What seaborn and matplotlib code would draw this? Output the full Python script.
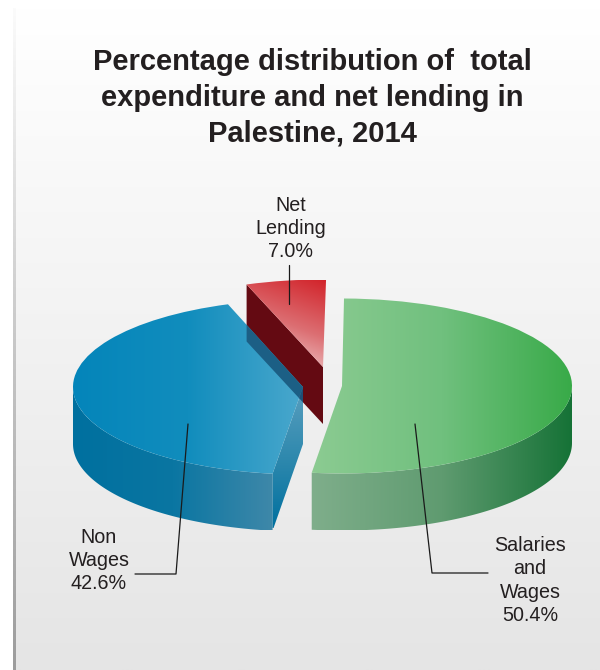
import numpy as np
import matplotlib
matplotlib.use("Agg")
import matplotlib.pyplot as plt
from matplotlib.patches import Polygon
import seaborn as sns

categories = ["Salaries\nand\nWages", "Non\nWages", "Net\nLending"]
shares = [50.4, 42.6, 7.0]
title = "Percentage distribution of  total\nexpenditure and net lending in\nPalestine, 2014"

sns.set_theme(style="white")
plt.rcParams["font.family"] = ["Liberation Sans", "DejaVu Sans"]

W, H, RX, RY, DEPTH = 600, 670, 230.0, 87.5, 57.0
# style: per-slice pie placement (pixel centre, clock start angle, perspective stretch of the sweep)
centers_px = [(342, 386), (303, 387), (323, 367)]
starts = [0.5, 187.6, 340.6]
stretch = [1.031, 1.0, 0.8]

fig = plt.figure(figsize=(W / 100, H / 100), dpi=100, facecolor="white")
ax = fig.add_axes([0, 0, 1, 1])


def X(px):
    return px / RX


def Y(py):
    return -py / RY


D = DEPTH / RY
limits = (X(0), X(W), Y(H), Y(0))


def pt(c, cx, cy, r=1.0, down=0.0):
    a = np.radians(c)
    return np.column_stack([cx + r * np.sin(a), cy + r * np.cos(a) - down])


def gradient(colors, extent, clip, z, direction="h", alpha=1.0):
    cmap = sns.blend_palette(colors, as_cmap=True)
    t = np.linspace(0, 1, 256)
    if direction == "h":
        g = t[None, :]
    elif direction == "v":
        g = t[:, None]
    else:
        gx, gy = np.meshgrid(t, t)
        g = direction[0] * gx + direction[1] * gy
        g = (g - g.min()) / (g.max() - g.min())
    im = ax.imshow(g, cmap=cmap, extent=extent, origin="upper", aspect="auto",
                   zorder=z, interpolation="bilinear", alpha=alpha)
    if clip is not None:
        im.set_clip_path(clip)
    return im


def poly(pts):
    p = Polygon(pts, closed=True, facecolor="none", edgecolor="none", transform=ax.transData)
    ax.add_patch(p)
    return p


def wedge(share, start, stretch_k, c):
    w, _ = ax.pie([share / 100 * stretch_k], startangle=90 - start, counterclock=False,
                  center=c, radius=1, normalize=False, frame=True,
                  wedgeprops=dict(facecolor="none", edgecolor="none", linewidth=0))
    return w[0]


def wall(c0, c1, cx, cy):
    arc = pt(np.linspace(c0, c1, 120), cx, cy)
    return np.vstack([arc, arc[::-1] - [0, D]])


def px_ext(x0, x1, y0, y1):
    return (X(x0), X(x1), Y(y1), Y(y0))


# background
gradient(["#ffffff", "#e5e5e5"], px_ext(15, 600, 8, 670), None, 0, "v")
gradient(["#fbfbfb", "#c8c8c8", "#9c9c9c"], px_ext(13.5, 16, 8, 670), None, 1, "v")

sweeps = [s * 3.6 * k for s, k in zip(shares, stretch)]
cs = [(X(x), Y(y)) for x, y in centers_px]

# red slice (drawn first, furthest back)
cx, cy = cs[2]
red_l = pt(starts[2], cx, cy)[0]
apex = np.array([cx, cy])
red_side_pts = np.array([red_l, apex, apex - [0, D], red_l - [0, D]])
ax.add_patch(Polygon(red_side_pts, closed=True, facecolor="#640a12", edgecolor="none", zorder=3))
red_top = wedge(shares[2], starts[2], stretch[2], cs[2])
gradient(["#d2232a", "#dc6f73", "#f4e0e0"], px_ext(246, 327, 280, 367), red_top, 4, (-0.35, 1.0))

# green slice
cx, cy = cs[0]
g_end = starts[0] + sweeps[0]
g_wall = poly(wall(90, g_end, cx, cy))
gradient(["#7fae8b", "#5f9b70", "#157236"], px_ext(311, 573, 380, 530), g_wall, 5)
g_top = wedge(shares[0], starts[0], stretch[0], cs[0])
gradient(["#8ccb92", "#70c07e", "#38aa48"], px_ext(311, 573, 298, 474), g_top, 6)

# blue slice
cx, cy = cs[1]
b_end = starts[1] + sweeps[1]
corner = pt(starts[1], cx, cy)[0]
apex_b = np.array([cx, cy])
b_wall = poly(wall(starts[1], 270, cx, cy))
gradient(["#00709f", "#0a76a2", "#3f88a9"], px_ext(73, 274, 380, 530), b_wall, 7)
cut_pts = np.array([apex_b, corner, corner - [0, D], apex_b - [0, D]])
b_cut = poly(cut_pts)
gradient(["#5a9fbf", "#2f89ae", "#00709f"], px_ext(272, 304, 387, 528), b_cut, 8, "v")
b_top = wedge(shares[1], starts[1], stretch[1], cs[1])
gradient(["#0485ba", "#118dbd", "#4ba8cd"], px_ext(73, 304, 300, 474), b_top, 9)

# shadow of the red slice's side seen through the blue slice
for clip, col, z in [(b_top, "#1c5f85", 10), (b_cut, "#1e4f77", 10)]:
    s = Polygon(red_side_pts, closed=True, facecolor=col, edgecolor="none", zorder=z)
    ax.add_patch(s)
    s.set_clip_path(clip)

# leader lines
leaders = [
    ([415, 432, 488], [424, 573, 573]),
    ([188, 176, 135], [424, 574, 574]),
    ([289, 289], [265, 304]),
]
for lx, ly in leaders:
    ax.plot([X(v) for v in lx], [Y(v) for v in ly], color="#1a1a1a", lw=0.9, zorder=12)

# labels
label_pos = [(530, 580.5), (99, 560.5), (291, 228.5)]
for name, share, (lx, ly) in zip(categories, shares, label_pos):
    ax.text(X(lx), Y(ly), f"{name}\n{share:.1f}%", ha="center", va="center", fontsize=14.2,
            color="#231f20", linespacing=1.27, zorder=13)

ax.text(X(312), Y(97.5), title, ha="center", va="center", fontsize=21, fontweight="bold",
        color="#231f20", linespacing=1.35, zorder=13)

ax.set_aspect("auto")
ax.set_xlim(limits[0], limits[1])
ax.set_ylim(limits[2], limits[3])
ax.axis("off")
fig.savefig("out.png", dpi=100)
